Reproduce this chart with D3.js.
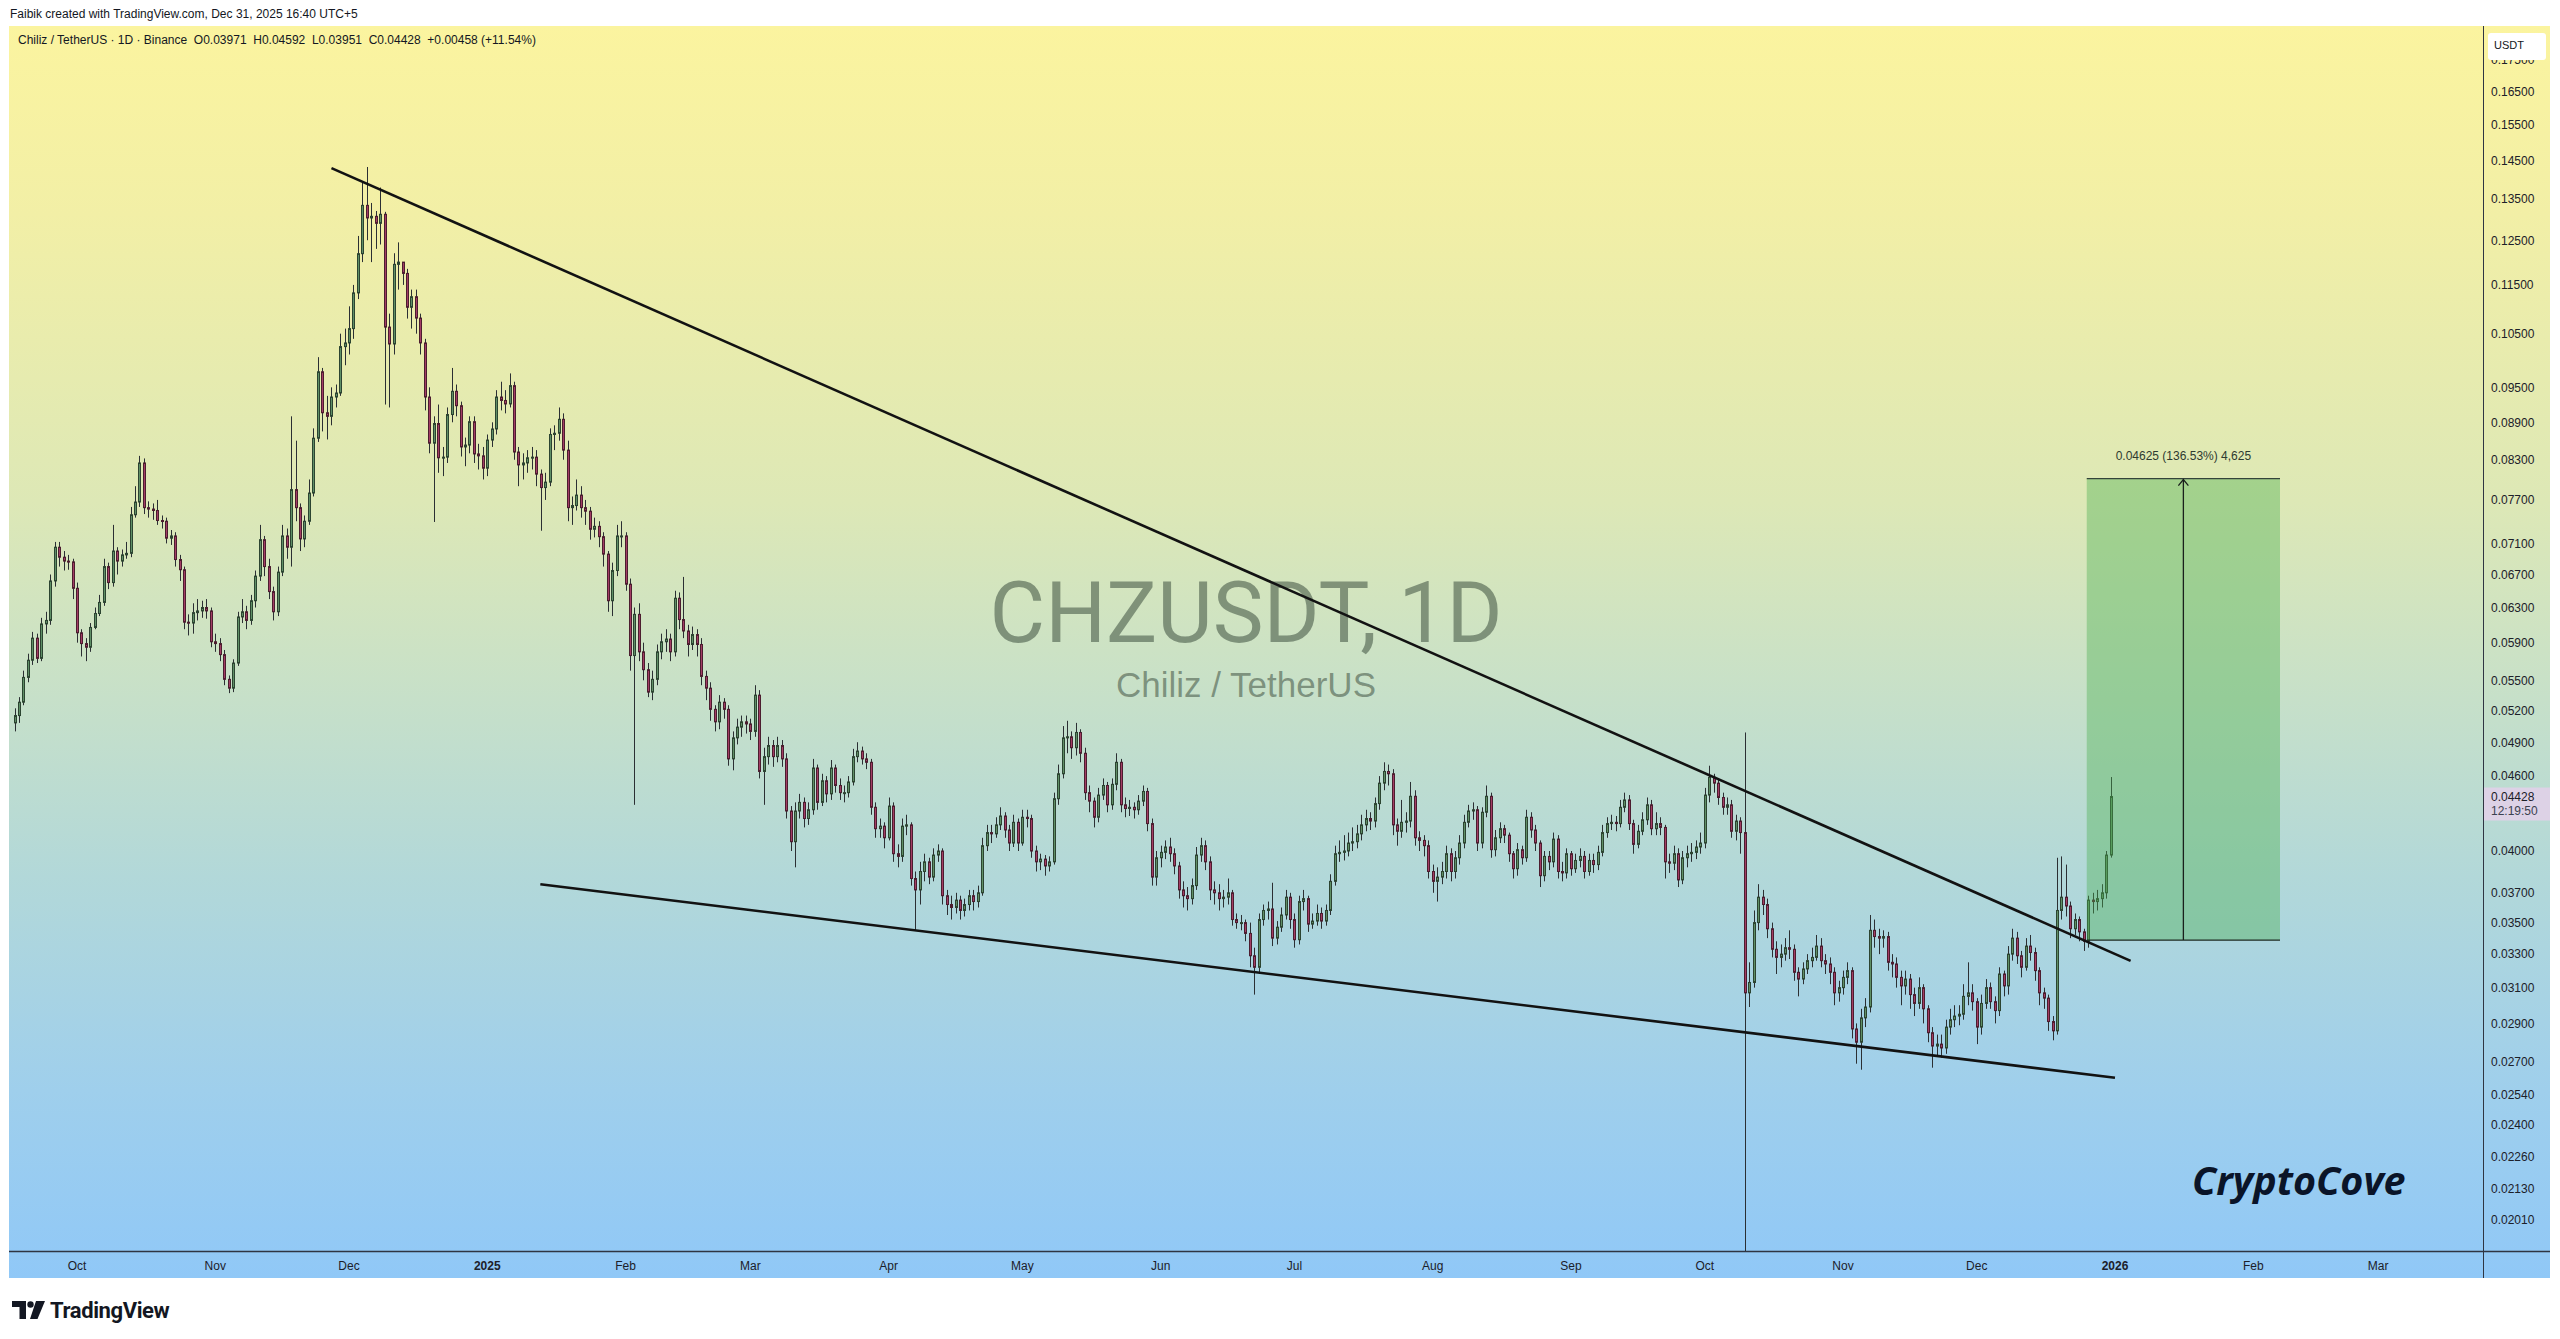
<!DOCTYPE html>
<html><head><meta charset="utf-8">
<script src="https://cdn.jsdelivr.net/npm/d3@7/dist/d3.min.js"></script>
<style>html,body{margin:0;padding:0;background:#fff;}svg{display:block;}</style>
</head><body>
<svg id="chart" width="2560" height="1339"></svg>
<script>
// ---------------- DATA ----------------
const startDate = "2024-09-17";
const firstOpen = 0.0508;
const closes = [
0.0515,0.0528,0.0553,0.0571,0.0595,0.0573,0.0611,0.0615,0.0662,0.0705,
0.0692,0.0687,0.0686,0.0653,0.0601,0.0589,0.0585,0.0607,0.0623,0.0636,
0.0680,0.0660,0.0700,0.0687,0.0695,0.0697,0.0749,0.0767,0.0825,0.0759,
0.0757,0.0755,0.0741,0.0740,0.0717,0.0720,0.0689,0.0676,0.0613,0.0612,
0.0624,0.0626,0.0630,0.0626,0.0591,0.0589,0.0577,0.0551,0.0542,0.0568,
0.0619,0.0625,0.0615,0.0638,0.0668,0.0715,0.0680,0.0649,0.0625,0.0673,
0.0720,0.0705,0.0785,0.0759,0.0716,0.0740,0.0780,0.0864,0.0978,0.0906,
0.0900,0.0933,0.0940,0.1025,0.1032,0.1060,0.1133,0.1219,0.1334,0.1303,
0.1307,0.1290,0.1312,0.1063,0.1030,0.1195,0.1200,0.1175,0.1103,0.1125,
0.1081,0.1032,0.0933,0.0856,0.0888,0.0833,0.0834,0.0903,0.0943,0.0918,
0.0850,0.0853,0.0891,0.0839,0.0836,0.0817,0.0861,0.0879,0.0933,0.0927,
0.0921,0.0953,0.0842,0.0822,0.0825,0.0833,0.0834,0.0808,0.0788,0.0796,
0.0870,0.0872,0.0895,0.0845,0.0759,0.0762,0.0777,0.0759,0.0754,0.0729,
0.0733,0.0719,0.0696,0.0638,0.0675,0.0720,0.0720,0.0658,0.0576,0.0622,
0.0580,0.0561,0.0538,0.0551,0.0580,0.0591,0.0594,0.0580,0.0641,0.0616,
0.0603,0.0588,0.0599,0.0588,0.0554,0.0542,0.0521,0.0509,0.0528,0.0521,
0.0475,0.0494,0.0504,0.0509,0.0507,0.0500,0.0535,0.0464,0.0477,0.0487,
0.0477,0.0487,0.0475,0.0431,0.0407,0.0431,0.0438,0.0425,0.0432,0.0467,
0.0438,0.0456,0.0445,0.0467,0.0452,0.0446,0.0446,0.0455,0.0477,0.0482,
0.0475,0.0472,0.0434,0.0417,0.0419,0.0410,0.0435,0.0398,0.0396,0.0419,
0.0420,0.0380,0.0372,0.0385,0.0392,0.0381,0.0397,0.0400,0.0368,0.0362,
0.0360,0.0365,0.0358,0.0362,0.0368,0.0364,0.0370,0.0404,0.0414,0.0413,
0.0420,0.0427,0.0416,0.0406,0.0422,0.0406,0.0426,0.0425,0.0400,0.0392,
0.0394,0.0389,0.0392,0.0441,0.0462,0.0494,0.0495,0.0485,0.0499,0.0480,
0.0446,0.0439,0.0426,0.0444,0.0452,0.0436,0.0453,0.0472,0.0436,0.0433,
0.0434,0.0432,0.0439,0.0447,0.0421,0.0381,0.0395,0.0399,0.0403,0.0398,
0.0389,0.0372,0.0368,0.0366,0.0375,0.0397,0.0404,0.0392,0.0372,0.0370,
0.0366,0.0367,0.0370,0.0352,0.0350,0.0350,0.0343,0.0329,0.0322,0.0352,
0.0358,0.0359,0.0340,0.0347,0.0355,0.0367,0.0352,0.0339,0.0364,0.0366,
0.0349,0.0351,0.0356,0.0351,0.0358,0.0378,0.0398,0.0399,0.0400,0.0406,
0.0407,0.0413,0.0420,0.0425,0.0423,0.0437,0.0454,0.0464,0.0462,0.0420,
0.0415,0.0422,0.0423,0.0443,0.0410,0.0408,0.0404,0.0385,0.0378,0.0381,
0.0385,0.0398,0.0385,0.0395,0.0406,0.0422,0.0431,0.0432,0.0406,0.0430,
0.0443,0.0401,0.0410,0.0417,0.0412,0.0398,0.0387,0.0401,0.0395,0.0426,
0.0416,0.0406,0.0382,0.0396,0.0392,0.0409,0.0385,0.0384,0.0398,0.0387,
0.0393,0.0396,0.0385,0.0393,0.0390,0.0399,0.0414,0.0421,0.0422,0.0421,
0.0434,0.0440,0.0421,0.0405,0.0415,0.0424,0.0436,0.0417,0.0421,0.0418,
0.0392,0.0391,0.0398,0.0379,0.0395,0.0398,0.0399,0.0403,0.0406,0.0444,
0.0459,0.0454,0.0442,0.0434,0.0436,0.0415,0.0423,0.0414,0.0307,0.0313,
0.0350,0.0367,0.0362,0.0346,0.0333,0.0328,0.0330,0.0334,0.0333,0.0319,
0.0315,0.0321,0.0326,0.0328,0.0335,0.0326,0.0324,0.0319,0.0307,0.0310,
0.0316,0.0320,0.0287,0.0280,0.0293,0.0299,0.0345,0.0341,0.0340,0.0341,
0.0325,0.0324,0.0316,0.0311,0.0315,0.0306,0.0301,0.0310,0.0298,0.0285,
0.0278,0.0279,0.0277,0.0288,0.0292,0.0294,0.0295,0.0305,0.0307,0.0302,
0.0288,0.0301,0.0310,0.0302,0.0297,0.0318,0.0311,0.0330,0.0340,0.0329,
0.0322,0.0335,0.0331,0.0320,0.0307,0.0304,0.0291,0.0286,0.0358,0.0367,
0.0361,0.0346,0.0352,0.0344,0.0338,0.0365,0.0364,0.0366,0.0370,0.03970,0.04428];
const highs = [
0.0522,0.0533,0.0560,0.0578,0.0602,0.0600,0.0618,0.0625,0.0670,0.0712,
0.0712,0.0700,0.0695,0.0690,0.0660,0.0605,0.0595,0.0612,0.0630,0.0645,
0.0690,0.0685,0.0735,0.0705,0.0702,0.0712,0.0760,0.0790,0.0836,0.0832,
0.0768,0.0765,0.0770,0.0748,0.0745,0.0728,0.0725,0.0695,0.0680,0.0622,
0.0635,0.0640,0.0638,0.0640,0.0630,0.0600,0.0595,0.0582,0.0555,0.0572,
0.0625,0.0640,0.0632,0.0645,0.0675,0.0735,0.0720,0.0690,0.0655,0.0680,
0.0735,0.0730,0.0900,0.0860,0.0765,0.0748,0.0800,0.0880,0.1005,0.0985,
0.0935,0.0950,0.0955,0.1050,0.1060,0.1105,0.1150,0.1260,0.1395,0.1433,
0.1340,0.1320,0.1379,0.1318,0.1090,0.1220,0.1245,0.1200,0.1185,0.1140,
0.1140,0.1090,0.1040,0.0950,0.0900,0.0920,0.0850,0.0915,0.0985,0.0955,
0.0925,0.0865,0.0900,0.0900,0.0855,0.0850,0.0870,0.0890,0.0945,0.0960,
0.0945,0.0975,0.0960,0.0850,0.0840,0.0845,0.0850,0.0845,0.0815,0.0810,
0.0880,0.0885,0.0915,0.0905,0.0860,0.0775,0.0800,0.0790,0.0770,0.0760,
0.0745,0.0740,0.0725,0.0700,0.0685,0.0735,0.0740,0.0725,0.0665,0.0630,
0.0635,0.0590,0.0568,0.0560,0.0588,0.0600,0.0605,0.0600,0.0650,0.0648,
0.0667,0.0610,0.0608,0.0605,0.0595,0.0560,0.0548,0.0525,0.0535,0.0532,
0.0525,0.0500,0.0512,0.0515,0.0515,0.0512,0.0545,0.0540,0.0485,0.0495,
0.0492,0.0495,0.0492,0.0480,0.0435,0.0438,0.0445,0.0442,0.0438,0.0475,
0.0470,0.0462,0.0460,0.0474,0.0470,0.0458,0.0452,0.0460,0.0484,0.0490,
0.0486,0.0480,0.0475,0.0438,0.0425,0.0422,0.0442,0.0438,0.0405,0.0425,
0.0428,0.0422,0.0385,0.0392,0.0398,0.0395,0.0402,0.0405,0.0402,0.0372,
0.0368,0.0370,0.0368,0.0366,0.0372,0.0372,0.0375,0.0410,0.0420,0.0420,
0.0426,0.0434,0.0430,0.0420,0.0428,0.0425,0.0432,0.0432,0.0428,0.0404,
0.0398,0.0397,0.0396,0.0446,0.0470,0.0505,0.0510,0.0500,0.0508,0.0502,
0.0485,0.0452,0.0442,0.0450,0.0458,0.0455,0.0458,0.0480,0.0475,0.0442,
0.0440,0.0438,0.0444,0.0452,0.0450,0.0425,0.0400,0.0404,0.0408,0.0410,
0.0402,0.0392,0.0378,0.0374,0.0380,0.0403,0.0410,0.0408,0.0396,0.0378,
0.0376,0.0372,0.0380,0.0372,0.0356,0.0355,0.0352,0.0350,0.0334,0.0356,
0.0362,0.0364,0.0377,0.0351,0.0360,0.0372,0.0370,0.0356,0.0368,0.0372,
0.0368,0.0356,0.0362,0.0360,0.0362,0.0383,0.0404,0.0408,0.0412,0.0414,
0.0418,0.0420,0.0428,0.0432,0.0430,0.0442,0.0460,0.0472,0.0470,0.0466,
0.0425,0.0440,0.0430,0.0455,0.0448,0.0415,0.0412,0.0408,0.0390,0.0388,
0.0392,0.0404,0.0402,0.0400,0.0412,0.0428,0.0436,0.0438,0.0435,0.0434,
0.0452,0.0446,0.0416,0.0422,0.0420,0.0414,0.0400,0.0406,0.0404,0.0432,
0.0430,0.0420,0.0408,0.0400,0.0400,0.0414,0.0412,0.0392,0.0402,0.0400,
0.0398,0.0402,0.0400,0.0398,0.0398,0.0404,0.0420,0.0426,0.0428,0.0427,
0.0440,0.0446,0.0444,0.0424,0.0420,0.0430,0.0442,0.0440,0.0430,0.0426,
0.0420,0.0398,0.0404,0.0402,0.0400,0.0404,0.0406,0.0408,0.0414,0.0450,
0.0469,0.0462,0.0458,0.0446,0.0442,0.0440,0.0428,0.0426,0.0499,0.0325,
0.0358,0.0376,0.0372,0.0366,0.0350,0.0338,0.0336,0.0340,0.0345,0.0336,
0.0322,0.0325,0.0330,0.0334,0.0342,0.0340,0.0330,0.0328,0.0322,0.0314,
0.0320,0.0325,0.0322,0.0290,0.0298,0.0304,0.0355,0.0352,0.0346,0.0345,
0.0344,0.0330,0.0328,0.0320,0.0320,0.0318,0.0310,0.0316,0.0312,0.0300,
0.0288,0.0284,0.0284,0.0292,0.0298,0.0300,0.0300,0.0312,0.0325,0.0312,
0.0304,0.0306,0.0315,0.0313,0.0305,0.0322,0.0320,0.0335,0.0346,0.0344,
0.0332,0.0340,0.0342,0.0334,0.0322,0.0310,0.0306,0.0294,0.0395,0.0396,
0.0390,0.0364,0.0356,0.0354,0.0346,0.0368,0.0370,0.0372,0.0376,0.0400,0.04592];
const lows = [
0.0500,0.0508,0.0525,0.0548,0.0566,0.0568,0.0570,0.0600,0.0610,0.0655,
0.0680,0.0675,0.0676,0.0640,0.0590,0.0575,0.0570,0.0580,0.0605,0.0620,
0.0632,0.0652,0.0655,0.0670,0.0680,0.0690,0.0692,0.0745,0.0760,0.0750,
0.0745,0.0742,0.0735,0.0730,0.0710,0.0708,0.0680,0.0662,0.0605,0.0598,
0.0600,0.0615,0.0618,0.0617,0.0585,0.0580,0.0570,0.0545,0.0537,0.0538,
0.0565,0.0612,0.0605,0.0610,0.0630,0.0662,0.0668,0.0640,0.0615,0.0620,
0.0668,0.0690,0.0680,0.0740,0.0700,0.0705,0.0735,0.0775,0.0858,0.0875,
0.0862,0.0885,0.0915,0.0935,0.0990,0.1010,0.1040,0.1120,0.1200,0.1250,
0.1200,0.1230,0.1240,0.0920,0.0915,0.1010,0.1140,0.1150,0.1080,0.1060,
0.1050,0.1010,0.0910,0.0840,0.0739,0.0810,0.0805,0.0825,0.0890,0.0900,
0.0835,0.0820,0.0840,0.0825,0.0815,0.0800,0.0805,0.0850,0.0870,0.0910,
0.0905,0.0915,0.0830,0.0790,0.0800,0.0810,0.0815,0.0790,0.0727,0.0770,
0.0790,0.0845,0.0860,0.0830,0.0740,0.0735,0.0755,0.0745,0.0735,0.0715,
0.0718,0.0705,0.0680,0.0625,0.0620,0.0668,0.0705,0.0650,0.0560,0.0436,
0.0570,0.0550,0.0533,0.0530,0.0545,0.0572,0.0580,0.0570,0.0575,0.0605,
0.0595,0.0575,0.0582,0.0575,0.0545,0.0530,0.0510,0.0500,0.0502,0.0512,
0.0469,0.0465,0.0488,0.0495,0.0498,0.0492,0.0495,0.0458,0.0436,0.0470,
0.0468,0.0472,0.0468,0.0425,0.0400,0.0388,0.0425,0.0418,0.0420,0.0428,
0.0432,0.0435,0.0438,0.0440,0.0446,0.0440,0.0438,0.0442,0.0452,0.0472,
0.0470,0.0466,0.0428,0.0410,0.0410,0.0402,0.0408,0.0392,0.0388,0.0392,
0.0412,0.0375,0.0345,0.0362,0.0378,0.0376,0.0378,0.0392,0.0362,0.0355,
0.0352,0.0356,0.0352,0.0354,0.0358,0.0358,0.0360,0.0368,0.0400,0.0406,
0.0410,0.0416,0.0410,0.0400,0.0403,0.0400,0.0404,0.0418,0.0395,0.0385,
0.0386,0.0382,0.0385,0.0390,0.0436,0.0458,0.0480,0.0475,0.0478,0.0472,
0.0440,0.0430,0.0418,0.0422,0.0440,0.0430,0.0432,0.0448,0.0430,0.0426,
0.0427,0.0425,0.0428,0.0435,0.0415,0.0375,0.0375,0.0388,0.0394,0.0392,
0.0383,0.0366,0.0360,0.0358,0.0362,0.0372,0.0392,0.0386,0.0365,0.0362,
0.0358,0.0360,0.0362,0.0348,0.0346,0.0345,0.0338,0.0322,0.0306,0.0318,
0.0348,0.0352,0.0335,0.0336,0.0344,0.0352,0.0346,0.0334,0.0336,0.0358,
0.0344,0.0346,0.0348,0.0346,0.0348,0.0355,0.0375,0.0392,0.0393,0.0396,
0.0400,0.0402,0.0408,0.0415,0.0416,0.0418,0.0432,0.0448,0.0452,0.0412,
0.0404,0.0410,0.0414,0.0418,0.0404,0.0400,0.0396,0.0380,0.0370,0.0364,
0.0376,0.0380,0.0378,0.0380,0.0390,0.0402,0.0418,0.0424,0.0400,0.0402,
0.0426,0.0395,0.0396,0.0406,0.0406,0.0392,0.0380,0.0382,0.0390,0.0392,
0.0410,0.0400,0.0374,0.0378,0.0386,0.0388,0.0380,0.0378,0.0380,0.0382,
0.0384,0.0388,0.0380,0.0382,0.0384,0.0386,0.0396,0.0410,0.0416,0.0415,
0.0418,0.0430,0.0416,0.0398,0.0402,0.0412,0.0420,0.0412,0.0412,0.0412,
0.0380,0.0384,0.0386,0.0374,0.0376,0.0388,0.0392,0.0394,0.0398,0.0402,
0.0438,0.0446,0.0436,0.0428,0.0428,0.0410,0.0408,0.0398,0.0150,0.0299,
0.0310,0.0345,0.0355,0.0340,0.0328,0.0318,0.0322,0.0326,0.0327,0.0314,
0.0305,0.0312,0.0318,0.0322,0.0326,0.0322,0.0318,0.0312,0.0300,0.0302,
0.0306,0.0312,0.0282,0.0269,0.0266,0.0288,0.0296,0.0334,0.0330,0.0334,
0.0320,0.0316,0.0310,0.0300,0.0306,0.0298,0.0294,0.0298,0.0290,0.0280,
0.0267,0.0273,0.0272,0.0274,0.0284,0.0288,0.0289,0.0292,0.0300,0.0297,
0.0279,0.0284,0.0298,0.0298,0.0290,0.0294,0.0305,0.0306,0.0326,0.0324,
0.0316,0.0320,0.0326,0.0314,0.0300,0.0298,0.0286,0.0281,0.0284,0.0352,
0.0354,0.0340,0.0342,0.0338,0.0332,0.0334,0.0356,0.0358,0.0360,0.0366,0.03951];

const priceTicks = [0.175,0.165,0.155,0.145,0.135,0.125,0.115,0.105,0.095,0.089,0.083,0.077,0.071,0.067,0.063,0.059,0.055,0.052,0.049,0.046,0.040,0.037,0.035,0.033,0.031,0.029,0.027,0.0254,0.024,0.0226,0.0213,0.0201];
const monthTicks = ["2024-10-01","2024-11-01","2024-12-01","2025-01-01","2025-02-01","2025-03-01","2025-04-01","2025-05-01","2025-06-01","2025-07-01","2025-08-01","2025-09-01","2025-10-01","2025-11-01","2025-12-01","2026-01-01","2026-02-01","2026-03-01"];
const monthLabels = ["Oct","Nov","Dec","2025","Feb","Mar","Apr","May","Jun","Jul","Aug","Sep","Oct","Nov","Dec","2026","Feb","Mar"];
const upperTrend = [["2024-11-27T01:30:00Z",0.1430],["2026-01-04T12:00:00Z",0.03259]];
const lowerTrend = [["2025-01-12T21:30:00Z",0.03759],["2026-01-01T00:00:00Z",0.02620]];
const measureDates = ["2025-12-25T16:00:00Z","2026-02-07T00:00:00Z"];
const measurePrices = [0.033875,0.080125];
const measureLabel = "0.04625 (136.53%) 4,625";
const legendText = "Chiliz / TetherUS · 1D · Binance  O0.03971  H0.04592  L0.03951  C0.04428  +0.00458 (+11.54%)";
const creditText = "Faibik created with TradingView.com, Dec 31, 2025 16:40 UTC+5";
const lastPrice = 0.04428;
const countdown = "12:19:50";

if (closes.length !== 471 || highs.length !== 471 || lows.length !== 471) {
  throw new Error("length mismatch " + closes.length + " " + highs.length + " " + lows.length);
}

// ---------------- CHART ----------------
const svg = d3.select("#chart");
const P = {left: 9, right: 2483, top: 26, bottom: 1251, axisRight: 2550, axisBottom: 1278};
const x = d3.scaleUtc().domain([new Date(Date.UTC(2024,9,1)), new Date(Date.UTC(2026,0,1))]).range([77, 2115]);
const y = d3.scaleLog().domain([0.165, 0.0201]).range([91.4, 1219.9]);
const FONT = "'Liberation Sans', Arial, sans-serif";

const defs = svg.append("defs");
const grad = defs.append("linearGradient").attr("id","bg").attr("gradientUnits","userSpaceOnUse")
  .attr("x1",0).attr("y1",P.top).attr("x2",0).attr("y2",P.axisBottom);
[[0,"#fbf49f"],[0.15,"#f2efa6"],[0.38,"#dde8b6"],[0.52,"#c9e1c7"],[0.68,"#b2d8d9"],[0.85,"#9fcfec"],[1,"#90c8f7"]]
  .forEach(([o,c]) => grad.append("stop").attr("offset",o).attr("stop-color",c));
defs.append("clipPath").attr("id","plotclip").append("rect")
  .attr("x",P.left).attr("y",P.top).attr("width",P.right-P.left).attr("height",P.bottom-P.top);

svg.append("rect").attr("x",P.left).attr("y",P.top).attr("width",P.axisRight-P.left).attr("height",P.axisBottom-P.top).attr("fill","url(#bg)");

// watermark
svg.append("text").attr("x",1246).attr("y",642).attr("text-anchor","middle")
  .attr("font-family","Roboto, 'Liberation Sans', sans-serif").attr("font-size",86)
  .attr("textLength",513).attr("lengthAdjust","spacingAndGlyphs")
  .attr("fill","rgba(60,78,62,0.55)").text("CHZUSDT, 1D");
svg.append("text").attr("x",1246).attr("y",697).attr("text-anchor","middle")
  .attr("font-family",FONT).attr("font-size",35)
  .attr("fill","rgba(60,78,62,0.55)").text("Chiliz / TetherUS");

// candles
const DAY = 864e5;
const t0 = Date.parse(startDate + "T00:00:00Z");
const candles = closes.map((c,i) => ({t:new Date(t0 + i*DAY), o: i ? closes[i-1] : firstOpen, h: highs[i], l: lows[i], c}));
const gC = svg.append("g").attr("clip-path","url(#plotclip)");
gC.selectAll("line.wick").data(candles).join("line").attr("class","wick")
  .attr("x1", d => Math.round(x(d.t)) + 0.5).attr("x2", d => Math.round(x(d.t)) + 0.5)
  .attr("y1", d => y(d.h)).attr("y2", d => y(d.l))
  .attr("stroke","#2b2f33").attr("stroke-width",1);
gC.selectAll("rect.body").data(candles).join("rect").attr("class","body")
  .attr("x", d => Math.round(x(d.t)) - 0.5)
  .attr("width", 2)
  .attr("y", d => y(Math.max(d.o,d.c)))
  .attr("height", d => Math.max(1, Math.abs(y(d.o) - y(d.c))))
  .attr("fill", d => d.c >= d.o ? "#5f8f66" : "#a23d64")
  .attr("stroke", d => d.c >= d.o ? "#2c4431" : "#4c1d2f")
  .attr("stroke-width",1);

// trend lines
const line = d3.line().x(d => x(new Date(d[0]))).y(d => y(d[1]));
[upperTrend, lowerTrend].forEach(tl => {
  gC.append("path").attr("d", line(tl)).attr("fill","none").attr("stroke","#121212").attr("stroke-width",2.6);
});

// measurement
const mx0 = x(new Date(measureDates[0])), mx1 = x(new Date(measureDates[1]));
const myLo = y(measurePrices[0]), myHi = y(measurePrices[1]);
const mxc = (mx0 + mx1) / 2;
svg.append("rect").attr("x",mx0).attr("y",myHi).attr("width",mx1-mx0).attr("height",myLo-myHi)
  .attr("fill","rgba(76,175,80,0.40)");
svg.append("line").attr("x1",mx0).attr("x2",mx1).attr("y1",myHi).attr("y2",myHi).attr("stroke","#34443a").attr("stroke-width",1.2);
svg.append("line").attr("x1",mx0).attr("x2",mx1).attr("y1",myLo).attr("y2",myLo).attr("stroke","#1e2a22").attr("stroke-width",1.2);
svg.append("line").attr("x1",mxc).attr("x2",mxc).attr("y1",myLo).attr("y2",myHi+1).attr("stroke","#1a1f1c").attr("stroke-width",1.3);
svg.append("path").attr("d",`M${mxc-5},${myHi+7}L${mxc},${myHi+1}L${mxc+5},${myHi+7}`).attr("fill","none").attr("stroke","#1a1f1c").attr("stroke-width",1.3);
svg.append("text").attr("x",mxc).attr("y",myHi-19).attr("text-anchor","middle")
  .attr("font-family",FONT).attr("font-size",12).attr("fill","#2e3a30").text(measureLabel);

// header
svg.append("text").attr("x",10).attr("y",18).attr("font-family",FONT).attr("font-size",12).attr("fill","#131722").text(creditText);
svg.append("text").attr("x",18).attr("y",44).attr("font-family",FONT).attr("font-size",12).attr("fill","#131722")
  .attr("xml:space","preserve").text(legendText);

// axes lines
svg.append("line").attr("x1",P.left).attr("x2",P.axisRight).attr("y1",P.bottom+0.5).attr("y2",P.bottom+0.5).attr("stroke","#2f3542").attr("stroke-width",1.6);
svg.append("line").attr("x1",P.right+0.5).attr("x2",P.right+0.5).attr("y1",P.top).attr("y2",P.axisBottom).attr("stroke","#2f3542").attr("stroke-width",1);

// y axis labels
svg.append("g").selectAll("text").data(priceTicks).join("text")
  .attr("x",2491).attr("y", d => y(d)).attr("dy","0.36em")
  .attr("font-family",FONT).attr("font-size",12).attr("fill","#1c2029")
  .text(d => d.toFixed(5));

// USDT box (covers top of the 0.17500 label, as in the reference)
svg.append("rect").attr("x",2488).attr("y",33).attr("width",58).attr("height",27).attr("rx",3).attr("fill","#ffffff");
svg.append("text").attr("x",2494).attr("y",49).attr("font-family",FONT).attr("font-size",11).attr("fill","#131722").text("USDT");

// last price label
const ly = y(lastPrice);
svg.append("rect").attr("x",P.right+1).attr("y",ly-9).attr("width",P.axisRight-P.right-1).attr("height",33).attr("fill","#ddd2e6");
svg.append("text").attr("x",2491).attr("y",ly).attr("dy","0.36em").attr("font-family",FONT).attr("font-size",12).attr("fill","#1c2029").text(lastPrice.toFixed(5));
svg.append("text").attr("x",2491).attr("y",ly+14).attr("dy","0.36em").attr("font-family",FONT).attr("font-size",12).attr("fill","#3b4150").text(countdown);

// x axis labels
svg.append("g").selectAll("text").data(monthTicks).join("text")
  .attr("x", d => x(new Date(d + "T00:00:00Z"))).attr("y",1270).attr("text-anchor","middle")
  .attr("font-family",FONT).attr("font-size",12).attr("fill","#1c2029")
  .attr("font-weight",(d,i) => /^\d{4}$/.test(monthLabels[i]) ? "bold" : "normal")
  .text((d,i) => monthLabels[i]);

// CryptoCove signature
svg.append("text").attr("x",2192).attr("y",1195).attr("font-family","'Open Sans', sans-serif")
  .attr("font-weight","bold").attr("font-style","italic").attr("font-size",39.5).attr("fill","#0a1428").text("CryptoCove");

// TradingView logo
const logo = svg.append("g").attr("fill","#131722");
logo.append("path").attr("d","M12,1301 H26 V1319 H19.5 V1307 H12 Z");
logo.append("circle").attr("cx",30.5).attr("cy",1304.5).attr("r",3.2);
logo.append("path").attr("d","M36,1301 H45 L37.5,1319 H30 Z");
svg.append("text").attr("x",50).attr("y",1318).attr("font-family","Roboto, 'Liberation Sans', sans-serif")
  .attr("font-weight","bold").attr("font-size",22).attr("letter-spacing","-0.4").attr("fill","#131722").text("TradingView");
</script>
</body></html>
